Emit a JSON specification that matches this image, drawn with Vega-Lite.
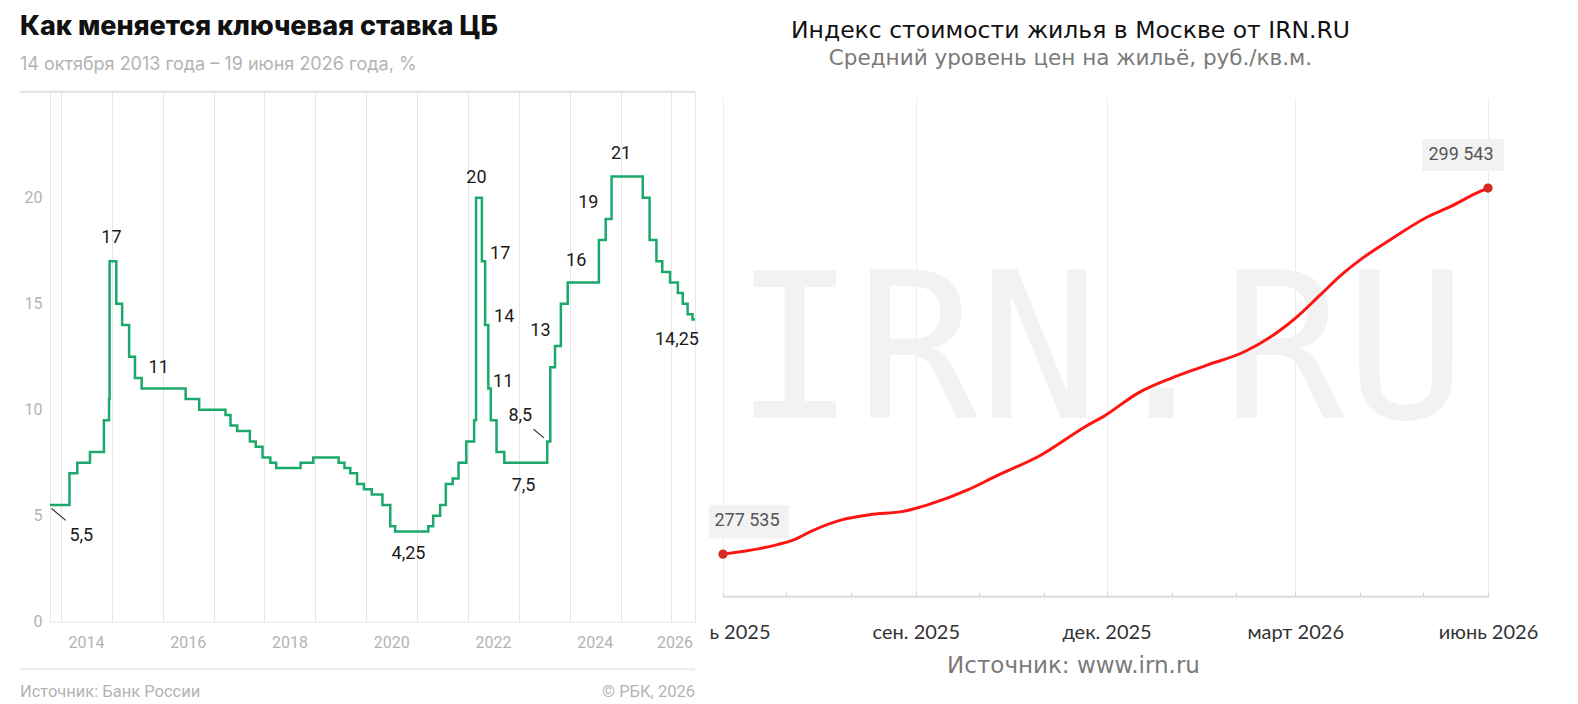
{
  "$schema": "https://vega.github.io/schema/vega-lite/v6.json",
  "background": "#ffffff",
  "padding": {"left": 18, "top": 13, "right": 5, "bottom": 0},
  "spacing": 7,
  "config": {
    "view": {"stroke": null},
    "locale": {"number": {"decimal": ",", "thousands": " ", "grouping": [3], "currency": ["", ""]}},
    "axis": {"labelOverlap": false, "labelFlush": false}
  },
  "datasets": {
    "rate": [
      {"date": "2013-10-14", "rate": 5.5},
      {"date": "2014-03-03", "rate": 7},
      {"date": "2014-04-28", "rate": 7.5},
      {"date": "2014-07-28", "rate": 8},
      {"date": "2014-11-05", "rate": 9.5},
      {"date": "2014-12-12", "rate": 10.5},
      {"date": "2014-12-16", "rate": 17},
      {"date": "2015-02-02", "rate": 15},
      {"date": "2015-03-16", "rate": 14},
      {"date": "2015-05-05", "rate": 12.5},
      {"date": "2015-06-16", "rate": 11.5},
      {"date": "2015-08-03", "rate": 11},
      {"date": "2016-06-14", "rate": 10.5},
      {"date": "2016-09-19", "rate": 10},
      {"date": "2017-03-27", "rate": 9.75},
      {"date": "2017-05-02", "rate": 9.25},
      {"date": "2017-06-19", "rate": 9},
      {"date": "2017-09-18", "rate": 8.5},
      {"date": "2017-10-30", "rate": 8.25},
      {"date": "2017-12-18", "rate": 7.75},
      {"date": "2018-02-12", "rate": 7.5},
      {"date": "2018-03-26", "rate": 7.25},
      {"date": "2018-09-17", "rate": 7.5},
      {"date": "2018-12-17", "rate": 7.75},
      {"date": "2019-06-17", "rate": 7.5},
      {"date": "2019-07-29", "rate": 7.25},
      {"date": "2019-09-09", "rate": 7},
      {"date": "2019-10-28", "rate": 6.5},
      {"date": "2019-12-16", "rate": 6.25},
      {"date": "2020-02-10", "rate": 6},
      {"date": "2020-04-27", "rate": 5.5},
      {"date": "2020-06-22", "rate": 4.5},
      {"date": "2020-07-27", "rate": 4.25},
      {"date": "2021-03-22", "rate": 4.5},
      {"date": "2021-04-26", "rate": 5},
      {"date": "2021-06-15", "rate": 5.5},
      {"date": "2021-07-26", "rate": 6.5},
      {"date": "2021-09-13", "rate": 6.75},
      {"date": "2021-10-25", "rate": 7.5},
      {"date": "2021-12-20", "rate": 8.5},
      {"date": "2022-02-14", "rate": 9.5},
      {"date": "2022-02-28", "rate": 20},
      {"date": "2022-04-11", "rate": 17},
      {"date": "2022-05-04", "rate": 14},
      {"date": "2022-05-27", "rate": 11},
      {"date": "2022-06-14", "rate": 9.5},
      {"date": "2022-07-25", "rate": 8},
      {"date": "2022-09-19", "rate": 7.5},
      {"date": "2023-07-24", "rate": 8.5},
      {"date": "2023-08-15", "rate": 12},
      {"date": "2023-09-18", "rate": 13},
      {"date": "2023-10-30", "rate": 15},
      {"date": "2023-12-18", "rate": 16},
      {"date": "2024-07-29", "rate": 18},
      {"date": "2024-09-16", "rate": 19},
      {"date": "2024-10-28", "rate": 21},
      {"date": "2025-06-09", "rate": 20},
      {"date": "2025-07-28", "rate": 18},
      {"date": "2025-09-15", "rate": 17},
      {"date": "2025-10-27", "rate": 16.5},
      {"date": "2025-12-22", "rate": 16},
      {"date": "2026-02-16", "rate": 15.5},
      {"date": "2026-03-23", "rate": 15},
      {"date": "2026-04-27", "rate": 14.5},
      {"date": "2026-06-01", "rate": 14.25},
      {"date": "2026-06-19", "rate": 14.25}
    ],
    "rateLabels": [
      {"date": "2014-12-29", "value": 18.1, "label": "17"},
      {"date": "2015-12-03", "value": 11.97, "label": "11"},
      {"date": "2014-05-27", "value": 4.04, "label": "5,5"},
      {"date": "2020-10-31", "value": 3.18, "label": "4,25"},
      {"date": "2022-03-03", "value": 20.94, "label": "20"},
      {"date": "2022-08-20", "value": 17.33, "label": "17"},
      {"date": "2022-09-18", "value": 14.37, "label": "14"},
      {"date": "2022-09-11", "value": 11.31, "label": "11"},
      {"date": "2023-01-12", "value": 9.7, "label": "8,5"},
      {"date": "2023-02-04", "value": 6.4, "label": "7,5"},
      {"date": "2023-06-05", "value": 13.7, "label": "13"},
      {"date": "2024-02-17", "value": 17.01, "label": "16"},
      {"date": "2024-05-14", "value": 19.75, "label": "19"},
      {"date": "2025-01-04", "value": 22.08, "label": "21"},
      {"date": "2026-02-09", "value": 13.27, "label": "14,25"}
    ],
    "leaders": [
      {"date": "2013-10-25", "value": 5.34, "date2": "2014-02-04", "value2": 4.78},
      {"date": "2023-04-17", "value": 9.08, "date2": "2023-07-01", "value2": 8.67}
    ],
    "housing": [
      {"date": "2025-06-01", "price": 277535},
      {"date": "2025-06-27", "price": 278106},
      {"date": "2025-07-05", "price": 278406},
      {"date": "2025-07-13", "price": 278905},
      {"date": "2025-07-28", "price": 279607},
      {"date": "2025-08-10", "price": 279908},
      {"date": "2025-08-26", "price": 280106},
      {"date": "2025-09-07", "price": 280508},
      {"date": "2025-09-26", "price": 281409},
      {"date": "2025-10-09", "price": 282208},
      {"date": "2025-10-31", "price": 283512},
      {"date": "2025-11-21", "price": 285212},
      {"date": "2025-11-30", "price": 285847},
      {"date": "2025-12-16", "price": 287218},
      {"date": "2026-01-01", "price": 288119},
      {"date": "2026-01-17", "price": 288858},
      {"date": "2026-02-05", "price": 289717},
      {"date": "2026-02-21", "price": 290919},
      {"date": "2026-03-02", "price": 291820},
      {"date": "2026-03-13", "price": 293123},
      {"date": "2026-03-24", "price": 294426},
      {"date": "2026-04-01", "price": 295225},
      {"date": "2026-04-14", "price": 296325},
      {"date": "2026-05-02", "price": 297730},
      {"date": "2026-05-14", "price": 298427},
      {"date": "2026-05-28", "price": 299328},
      {"date": "2026-06-01", "price": 299543}
    ]
  },
  "hconcat": [
    {
      "spacing": 3.7,
      "vconcat": [
        {
          "width": 645,
          "height": 1,
          "data": {"values": []},
          "mark": "point",
          "title": {
            "text": "Как меняется ключевая ставка ЦБ",
            "subtitle": "14 октября 2013 года – 19 июня 2026 года, %",
            "anchor": "start",
            "frame": "group",
            "dx": -30,
            "font": "Inter",
            "fontSize": 27,
            "fontWeight": 800,
            "color": "#111111",
            "subtitleFont": "Inter",
            "subtitleFontSize": 18,
            "subtitleColor": "#b3b3b3",
            "subtitlePadding": 15,
            "offset": 10
          }
        },
        {
          "width": 645,
          "height": 530,
          "view": {"stroke": "#e6e6e6"},
          "layer": [
            {
              "data": {"values": [{}]},
              "mark": {"type": "rule", "color": "#e3e3e3", "strokeWidth": 2},
              "encoding": {
                "x": {"datum": {"year": 2013, "month": 3, "date": 12}, "type": "temporal"},
                "x2": {"datum": {"year": 2026, "month": 6, "date": 19}},
                "y": {"datum": 25, "type": "quantitative"}
              }
            },
            {
              "data": {"name": "rate"},
              "mark": {"type": "line", "interpolate": "step-after", "color": "#1ba86b", "strokeWidth": 2.5},
              "encoding": {
                "x": {
                  "field": "date",
                  "type": "temporal",
                  "scale": {"domain": [{"year": 2013, "month": 10, "date": 14}, {"year": 2026, "month": 6, "date": 19}]},
                  "axis": {
                    "title": null,
                    "tickCount": {"interval": "year", "step": 1},
                    "ticks": false,
                    "domain": false,
                    "grid": true,
                    "gridColor": "#e6e6e6",
                    "labelExpr": "year(datum.value) % 2 == 0 ? '' + year(datum.value) : ''",
                    "labelOffset": {"condition": {"test": "year(datum.value) >= 2026", "value": 3}, "value": 25},
                    "labelPadding": 13,
                    "labelFont": "Roboto",
                    "labelFontSize": 16,
                    "labelColor": "#b3b3b3"
                  }
                },
                "y": {
                  "field": "rate",
                  "type": "quantitative",
                  "scale": {"domain": [0, 25], "nice": false},
                  "axis": {
                    "title": null,
                    "values": [0, 5, 10, 15, 20],
                    "ticks": false,
                    "domain": false,
                    "gridColor": "#e6e6e6",
                    "labelPadding": 8,
                    "labelFont": "Roboto",
                    "labelFontSize": 16,
                    "labelColor": "#b3b3b3"
                  }
                }
              }
            },
            {
              "data": {"name": "leaders"},
              "mark": {"type": "rule", "color": "#333333", "strokeWidth": 1.2},
              "encoding": {
                "x": {"field": "date", "type": "temporal"},
                "x2": {"field": "date2"},
                "y": {"field": "value", "type": "quantitative"},
                "y2": {"field": "value2"}
              }
            },
            {
              "data": {"name": "rateLabels"},
              "mark": {"type": "text", "font": "Roboto", "fontSize": 18, "color": "#1a1a1a", "baseline": "middle"},
              "encoding": {
                "x": {"field": "date", "type": "temporal"},
                "y": {"field": "value", "type": "quantitative"},
                "text": {"field": "label"}
              }
            },
            {
              "data": {"values": [{}]},
              "mark": {"type": "rule", "color": "#ebebeb", "strokeWidth": 2},
              "encoding": {
                "x": {"datum": {"year": 2013, "month": 3, "date": 12}, "type": "temporal"},
                "x2": {"datum": {"year": 2026, "month": 6, "date": 19}},
                "y": {"datum": -2.245, "type": "quantitative"}
              }
            },
            {
              "data": {"values": [{}]},
              "mark": {"type": "text", "text": "Источник: Банк России", "align": "left", "baseline": "middle", "font": "Roboto", "fontSize": 16.5, "color": "#b3b3b3"},
              "encoding": {
                "x": {"datum": {"year": 2013, "month": 3, "date": 12}, "type": "temporal"},
                "y": {"datum": -3.32, "type": "quantitative"}
              }
            },
            {
              "data": {"values": [{}]},
              "mark": {"type": "text", "text": "© РБК, 2026", "align": "right", "baseline": "middle", "font": "Roboto", "fontSize": 16.5, "color": "#b3b3b3"},
              "encoding": {
                "x": {"datum": {"year": 2026, "month": 6, "date": 19}, "type": "temporal"},
                "y": {"datum": -3.32, "type": "quantitative"}
              }
            }
          ]
        }
      ]
    },
    {
      "spacing": 11.3,
      "vconcat": [
        {
          "width": 765,
          "height": 1,
          "data": {"values": []},
          "mark": "point",
          "title": {
            "text": "Индекс стоимости жилья в Москве от IRN.RU",
            "subtitle": "Средний уровень цен на жильё, руб./кв.м.",
            "anchor": "middle",
            "frame": "group",
            "dx": -35,
            "font": "DejaVu Sans",
            "fontSize": 23.5,
            "fontWeight": "normal",
            "color": "#111111",
            "subtitleFont": "DejaVu Sans",
            "subtitleFontSize": 21.5,
            "subtitleColor": "#7a7a7a",
            "subtitlePadding": 5,
            "offset": 15.7
          }
        },
        {
          "width": 765,
          "height": 499,
          "layer": [
            {
              "data": {"values": [{}]},
              "mark": {"type": "text", "text": "IRN.RU", "font": "DejaVu Sans Mono", "fontSize": 203, "color": "#f2f2f2", "align": "center", "baseline": "alphabetic"},
              "encoding": {
                "x": {"datum": {"year": 2025, "month": 11, "date": 28}, "type": "temporal"},
                "y": {"datum": 285734, "type": "quantitative"}
              }
            },
            {
              "data": {"name": "housing"},
              "mark": {"type": "line", "interpolate": "monotone", "color": "#ff1414", "strokeWidth": 3},
              "encoding": {
                "x": {
                  "field": "date",
                  "type": "temporal",
                  "scale": {"domain": [{"year": 2025, "month": 6, "date": 1}, {"year": 2026, "month": 6, "date": 1}]},
                  "axis": {
                    "title": "Источник: www.irn.ru",
                    "titleFont": "DejaVu Sans",
                    "titleFontSize": 23,
                    "titleFontWeight": "normal",
                    "titleColor": "#7a7a7a",
                    "titleX": 350,
                    "titleAlign": "center",
                    "titlePadding": 12,
                    "tickCount": {"interval": "month", "step": 1},
                    "labelExpr": "year(datum.value) == 2025 && month(datum.value) == 5 ? 'ь 2025' : (month(datum.value) % 3 == 2 ? ['янв.', 'февр.', 'март', 'апр.', 'май', 'июнь', 'июль', 'авг.', 'сен.', 'окт.', 'нояб.', 'дек.'][month(datum.value)] + ' ' + year(datum.value) : '')",
                    "labelAlign": {"condition": {"test": "year(datum.value) == 2025 && month(datum.value) == 5", "value": "right"}, "value": "center"},
                    "labelOffset": {"condition": {"test": "year(datum.value) == 2025 && month(datum.value) == 5", "value": 47}, "value": 0},
                    "labelFont": "Lato",
                    "labelFontSize": 20,
                    "labelColor": "#333333",
                    "labelPadding": 30,
                    "domainColor": "#dcdcdc",
                    "domainWidth": 2,
                    "tickColor": "#d0d0d0",
                    "tickSize": -4,
                    "grid": true,
                    "gridColor": "#ececec",
                    "gridOpacity": {"condition": {"test": "month(datum.value) % 3 != 2", "value": 0}, "value": 1}
                  }
                },
                "y": {
                  "field": "price",
                  "type": "quantitative",
                  "scale": {"domain": [275000, 305000], "zero": false, "nice": false},
                  "axis": {
                    "title": null,
                    "labels": false,
                    "ticks": false,
                    "domain": false,
                    "values": [275000, 280000, 285000, 290000, 295000, 300000, 305000],
                    "gridDash": [3, 3],
                    "gridColor": "#d9d9d9"
                  }
                }
              }
            },
            {
              "data": {"name": "housing"},
              "transform": [{"filter": "datum.price == 277535 || datum.price == 299543"}],
              "mark": {"type": "circle", "size": 85, "color": "#d42a1f", "opacity": 1},
              "encoding": {
                "x": {"field": "date", "type": "temporal"},
                "y": {"field": "price", "type": "quantitative"}
              }
            },
            {
              "data": {"name": "housing"},
              "transform": [{"filter": "datum.price == 277535"}],
              "encoding": {
                "x": {"field": "date", "type": "temporal"},
                "y": {"field": "price", "type": "quantitative"}
              },
              "layer": [
                {
                  "mark": {"type": "rect", "color": "#f2f2f2", "xOffset": -14, "x2Offset": 66, "yOffset": -49, "y2Offset": -16},
                  "encoding": {"x2": {"field": "date"}, "y2": {"field": "price"}}
                },
                {
                  "mark": {"type": "text", "font": "Roboto", "fontSize": 18, "color": "#555555", "dx": 24, "dy": -33, "baseline": "middle"},
                  "encoding": {"text": {"field": "price", "type": "quantitative", "format": ",d"}}
                }
              ]
            },
            {
              "data": {"name": "housing"},
              "transform": [{"filter": "datum.price == 299543"}],
              "encoding": {
                "x": {"field": "date", "type": "temporal"},
                "y": {"field": "price", "type": "quantitative"}
              },
              "layer": [
                {
                  "mark": {"type": "rect", "color": "#f2f2f2", "xOffset": -66, "x2Offset": 16, "yOffset": -49, "y2Offset": -17},
                  "encoding": {"x2": {"field": "date"}, "y2": {"field": "price"}}
                },
                {
                  "mark": {"type": "text", "font": "Roboto", "fontSize": 18, "color": "#555555", "dx": -27, "dy": -33, "baseline": "middle"},
                  "encoding": {"text": {"field": "price", "type": "quantitative", "format": ",d"}}
                }
              ]
            }
          ]
        }
      ]
    }
  ]
}
